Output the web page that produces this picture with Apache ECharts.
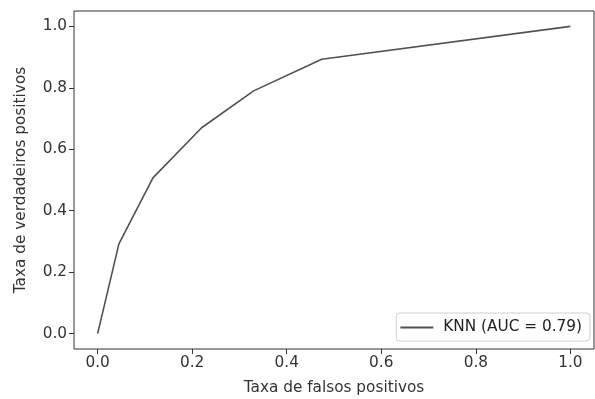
<!DOCTYPE html>
<html>
<head>
<meta charset="utf-8">
<script src="https://cdn.jsdelivr.net/npm/echarts@6/dist/echarts.min.js"></script>
<style>html,body{margin:0;padding:0;background:#fff}#c{width:595px;height:399px}</style>
</head>
<body>
<div id="c"></div>
<script>
const fpr = [0.0, 0.045, 0.117, 0.22, 0.33, 0.474, 1.0];
const tpr = [0.0, 0.292, 0.507, 0.67, 0.79, 0.893, 1.0];
const tickValues = [0.0, 0.2, 0.4, 0.6, 0.8, 1.0];
const seriesName = 'KNN (AUC = 0.79)';
const xTitle = 'Taxa de falsos positivos';
const yTitle = 'Taxa de verdadeiros positivos';

const chart = echarts.init(document.getElementById('c'), null, {renderer: 'canvas'});
const font = 'DejaVu Sans';
const fs = 15.3;
const axisCommon = {
  type: 'value', min: -0.05, max: 1.05,
  axisLine: {show: false, onZero: false},
  splitLine: {show: false},
  axisTick: {show: true, inside: false, length: 5, customValues: tickValues, lineStyle: {color: '#333', width: 1}},
  axisLabel: {customValues: tickValues, formatter: v => v.toFixed(1), color: '#333', fontFamily: font, fontSize: fs, margin: 7},
  nameTextStyle: {color: '#333', fontFamily: font, fontSize: fs},
  nameLocation: 'middle'
};
chart.setOption({
  animation: false,
  backgroundColor: '#fff',
  grid: {left: 74, right: 1, top: 11, bottom: 50, show: true, borderColor: '#333', borderWidth: 1, backgroundColor: 'transparent', containLabel: false, outerBoundsMode: 'none'},
  xAxis: Object.assign({}, axisCommon, {name: xTitle, nameGap: 32}),
  yAxis: Object.assign({}, axisCommon, {name: yTitle, nameGap: 45}),
  legend: {
    data: [{name: seriesName, icon: 'rect'}],
    right: 5, bottom: 58,
    itemWidth: 33, itemHeight: 2, itemGap: 8,
    backgroundColor: '#fff', borderColor: '#d0d0d0', borderWidth: 1, borderRadius: 3,
    padding: [7, 8, 6, 4],
    textStyle: {color: '#222', fontFamily: font, fontSize: fs, padding: [0, 0, 0, 5]}
  },
  series: [{
    name: seriesName, type: 'line', showSymbol: false, symbol: 'none',
    data: fpr.map((x, i) => [x, tpr[i]]),
    lineStyle: {color: '#4d5350', width: 1.6},
    itemStyle: {color: '#4d5350'}
  }]
});
</script>
</body>
</html>
